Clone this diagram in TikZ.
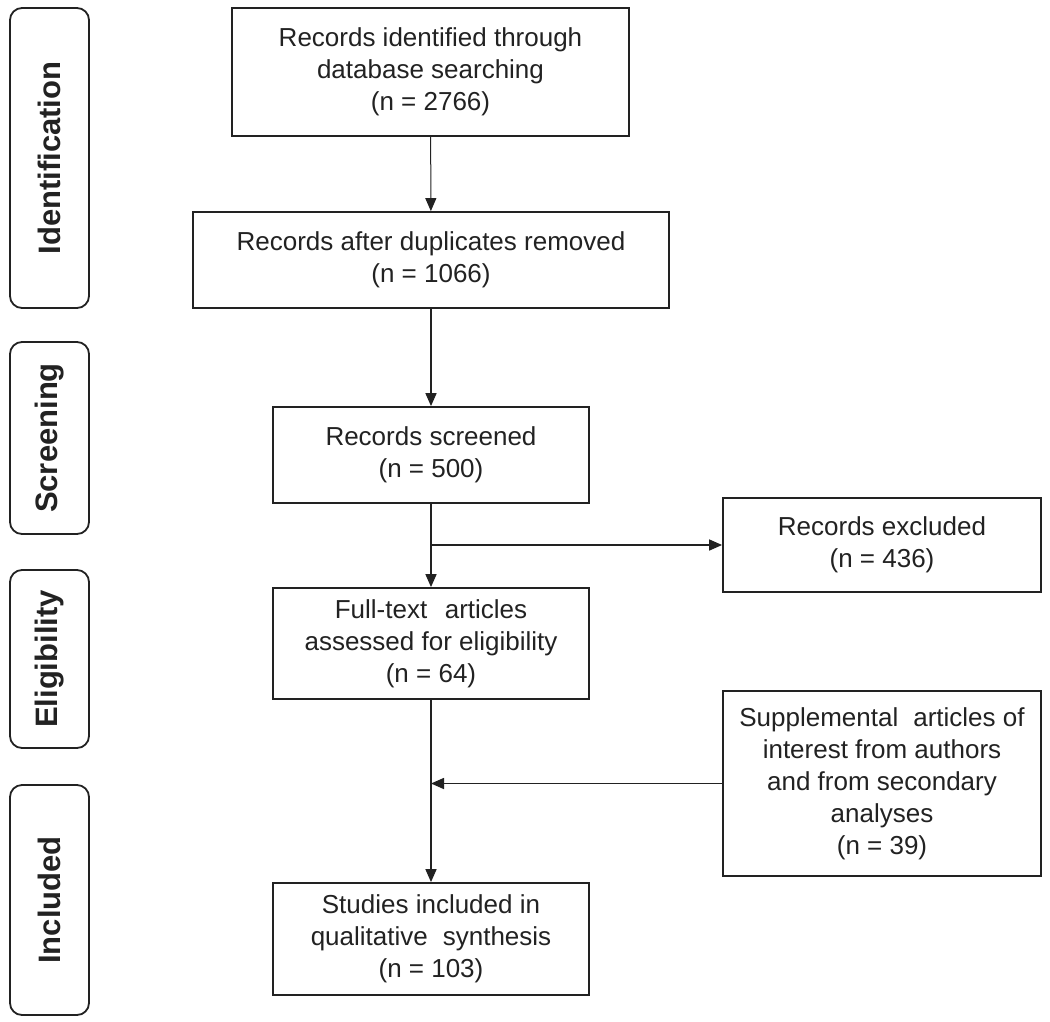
\documentclass[tikz,border=0pt]{standalone}
\usepackage{fontspec}
\setmainfont{Liberation Sans}
\usetikzlibrary{arrows.meta}
\definecolor{ink}{HTML}{222222}
\begin{document}
\begin{tikzpicture}[x=1pt,y=-1pt,
  box/.style={draw=ink, line width=1.8pt, inner sep=0pt, align=center, text=ink,
    font=\fontsize{26}{32}\selectfont},
  side/.style={draw=ink, line width=1.8pt, rounded corners=12pt, inner sep=0pt,
    rotate=90, minimum height=79pt, text=ink, font=\fontsize{31}{36}\selectfont\bfseries},
  arr/.style={-{Triangle[length=13pt,width=11pt]}, draw=ink, line width=1.6pt},
  ln/.style={draw=ink, line width=1.6pt}]
\fill[white] (0,0) rectangle (1050,1021);
\useasboundingbox (0,0) rectangle (1050,1021);
% side labels
\node[side, minimum width=300pt] (id) at (49.5,158) {Identification};
\node[side, minimum width=192pt] (sc) at (49.5,438) {Screening};
\node[side, minimum width=178pt] (el) at (49.5,659) {Eligibility};
\node[side, minimum width=230pt] (in) at (49.5,900) {Included};
% main boxes
\node[box, minimum width=397pt, minimum height=128pt] (b1) at (430.5,72)
  {Records identified through\\database searching\\(n = 2766)};
\node[box, minimum width=476pt, minimum height=96pt] (b2) at (431,260)
  {Records after duplicates removed\\(n = 1066)};
\node[box, minimum width=316pt, minimum height=96pt] (b3) at (431,455)
  {Records screened\\(n = 500)};
\node[box, minimum width=316pt, minimum height=111pt] (b4) at (431,643.5)
  {Full-text\hspace{0.4em} articles\\assessed for eligibility\\(n = 64)};
\node[box, minimum width=316pt, minimum height=112pt] (b5) at (431,939)
  {Studies included in\\qualitative\hspace{0.3em} synthesis\\(n = 103)};
\node[box, minimum width=318pt, minimum height=94pt] (ex) at (882,545)
  {Records excluded\\(n = 436)};
\node[box, minimum width=318pt, minimum height=185pt] (su) at (882,783.5)
  {Supplemental\hspace{0.3em} articles of\\interest from authors\\and from secondary\\analyses\\(n = 39)};
% connectors
\draw[arr, line width=1pt] (b1) -- (b2);
\draw[arr] (b2) -- (b3);
\coordinate (j1) at (b3.south |- ex.west);
\draw[ln] (b3.south) -- (j1);
\draw[arr] (j1) -- (b4.north);
\draw[arr] (j1) -- (ex.west);
\coordinate (j2) at (b4.south |- su.west);
\draw[arr] (b4.south) -- (b5.north);
\draw[arr] (su.west) -- (j2);
\end{tikzpicture}
\end{document}
